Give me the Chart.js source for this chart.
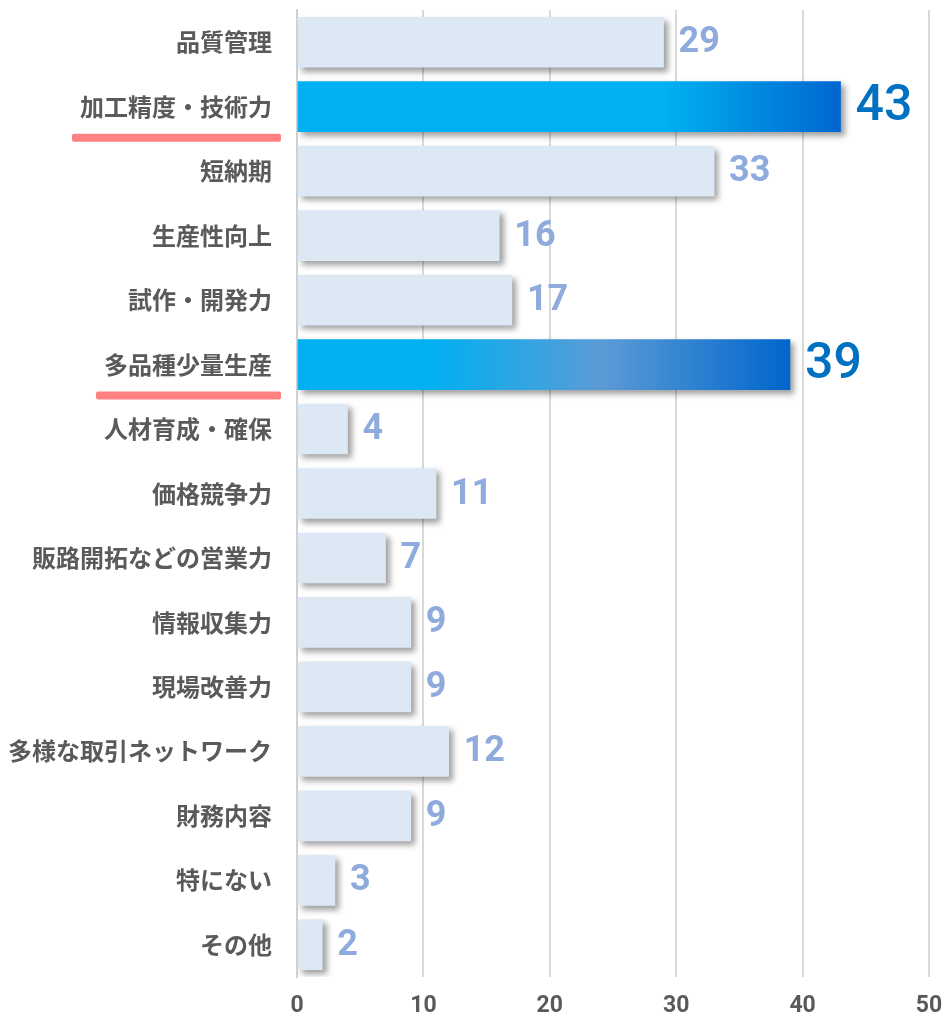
<!DOCTYPE html>
<html>
<head>
<meta charset="utf-8">
<script src="https://cdn.jsdelivr.net/npm/chart.js@4.4.1/dist/chart.umd.min.js"></script>
<style>
  html, body { margin: 0; padding: 0; background: #ffffff; }
  #wrap { width: 945px; height: 1017px; }
</style>
</head>
<body>
<div id="wrap"><canvas id="c" width="945" height="1017"></canvas></div>
<script>
const categories = [
  "品質管理", "加工精度・技術力", "短納期", "生産性向上", "試作・開発力",
  "多品種少量生産", "人材育成・確保", "価格競争力", "販路開拓などの営業力", "情報収集力",
  "現場改善力", "多様な取引ネットワーク", "財務内容", "特にない", "その他"
];
const values = [29, 43, 33, 16, 17, 39, 4, 11, 7, 9, 9, 12, 9, 3, 2];
const highlighted = [1, 5];
const xTickValues = [0, 10, 20, 30, 40, 50];

const LIGHT = '#dde8f5';
const gradientStops = {
  1: [[0, '#00b0f0'], [0.68, '#00b0f0'], [1, '#0066d0']],
  5: [[0, '#00b0f0'], [0.27, '#00b0f0'], [0.62, '#5b9bd5'], [1, '#0066cc']]
};

function barColor(ctx) {
  const i = ctx.dataIndex;
  if (!highlighted.includes(i)) return LIGHT;
  const chart = ctx.chart;
  if (!chart.chartArea || !chart.scales.x) return '#00b0f0';
  const xs = chart.scales.x;
  const x0 = xs.getPixelForValue(0);
  const x1 = xs.getPixelForValue(values[i]);
  const g = chart.ctx.createLinearGradient(x0, 0, x1, 0);
  gradientStops[i].forEach(s => g.addColorStop(s[0], s[1]));
  return g;
}

const shadowPlugin = {
  id: 'shadow',
  beforeDatasetsDraw(chart) {
    const c = chart.ctx;
    c.save();
    c.shadowColor = 'rgba(0,0,0,0.38)';
    c.shadowBlur = 6;
    c.shadowOffsetX = 4;
    c.shadowOffsetY = 4;
  },
  afterDatasetsDraw(chart) {
    chart.ctx.restore();
  }
};

const labelPlugin = {
  id: 'labels',
  afterDraw(chart) {
    const c = chart.ctx;
    const meta = chart.getDatasetMeta(0);
    c.save();
    meta.data.forEach((bar, i) => {
      c.font = 'bold 24px "Noto Sans CJK JP", "Noto Sans", sans-serif';
      c.fillStyle = '#5a5a5a';
      c.textAlign = 'right';
      c.textBaseline = 'middle';
      const lx = 272;
      c.fillText(categories[i], lx, bar.y);
      if (highlighted.includes(i)) {
        const w = c.measureText(categories[i]).width;
        c.fillStyle = '#ff8080';
        const ux = lx - w - 8, uy = bar.y + 27, uw = w + 17, uh = 8;
        c.beginPath();
        if (c.roundRect) c.roundRect(ux, uy, uw, uh, 2); else c.rect(ux, uy, uw, uh);
        c.fill();
      }
      c.textAlign = 'left';
      if (highlighted.includes(i)) {
        c.font = '500 50px Roboto, "Liberation Sans", sans-serif';
        c.fillStyle = '#0070c0';
      } else {
        c.font = 'bold 36px Roboto, "Liberation Sans", sans-serif';
        c.fillStyle = '#8faadc';
      }
      c.fillText(String(values[i]), bar.x + 15, bar.y + 1);
    });
    c.restore();
  }
};

new Chart(document.getElementById('c'), {
  type: 'bar',
  data: {
    labels: categories,
    datasets: [{
      data: values,
      backgroundColor: barColor,
      borderWidth: 0,
      barThickness: 50
    }]
  },
  options: {
    indexAxis: 'y',
    responsive: false,
    animation: false,
    layout: { padding: { top: 10, right: 16, left: 0, bottom: 0 } },
    plugins: { legend: { display: false }, tooltip: { enabled: false } },
    scales: {
      x: {
        min: 0, max: 50,
        afterBuildTicks(s) { s.ticks = xTickValues.map(v => ({ value: v })); },
        afterFit(s) { s.height = 40; s.paddingLeft = 0; s.paddingRight = 0; },
        grid: { color: '#d9d9d9', lineWidth: 2, drawTicks: false },
        border: { display: false },
        ticks: {
          padding: 15,
          color: '#595959',
          font: { family: 'Roboto, "Liberation Sans", sans-serif', size: 23, weight: 'bold' }
        }
      },
      y: {
        afterFit(s) { s.width = 297; },
        grid: { display: false, drawTicks: false },
        border: { display: true, color: '#d0d0d0', width: 2 },
        ticks: { display: false }
      }
    }
  },
  plugins: [shadowPlugin, labelPlugin]
});
</script>
</body>
</html>
